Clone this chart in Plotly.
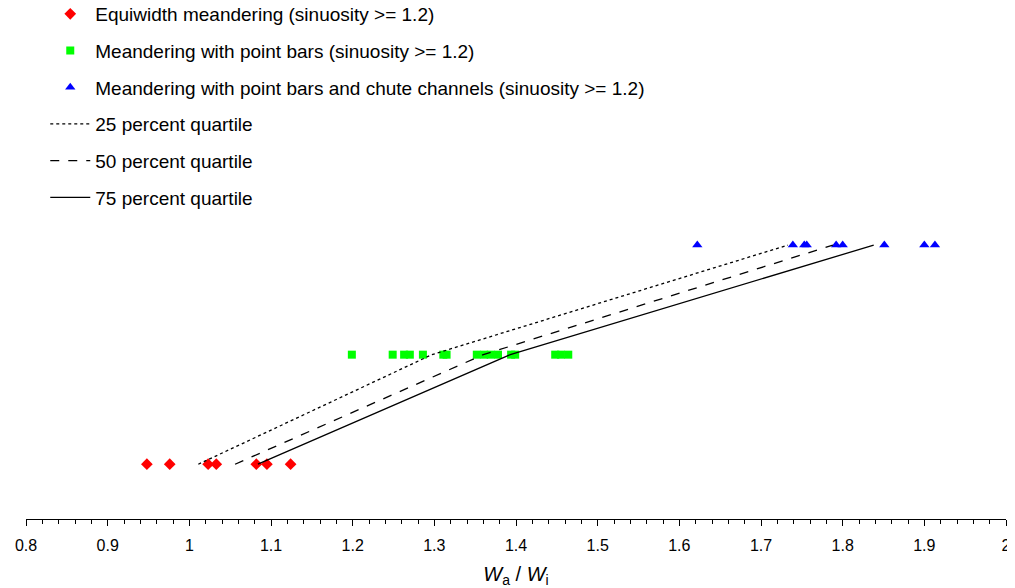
import plotly.graph_objects as go

# ---- data ----
equiwidth_x = [0.948, 0.976, 1.023, 1.033, 1.082, 1.095, 1.124]
pointbar_x = [1.199, 1.249, 1.263, 1.270, 1.286, 1.311, 1.315, 1.352, 1.361,
              1.369, 1.378, 1.394, 1.399, 1.448, 1.455, 1.464]
chute_x = [1.622, 1.739, 1.753, 1.756, 1.792, 1.800, 1.851, 1.900, 1.913]

levels = [1, 2, 3]  # equiwidth, point bars, chute channels
q25_x = [1.011, 1.297, 1.733]
q50_x = [1.056, 1.360, 1.788]
q75_x = [1.084, 1.393, 1.838]

tick_vals = [0.8, 0.9, 1.0, 1.1, 1.2, 1.3, 1.4, 1.5, 1.6, 1.7, 1.8, 1.9, 2.0]
tick_text = ["0.8", "0.9", "1", "1.1", "1.2", "1.3", "1.4", "1.5", "1.6", "1.7", "1.8", "1.9", "2"]

names = [
    "Equiwidth meandering (sinuosity >= 1.2)",
    "Meandering with point bars (sinuosity >= 1.2)",
    "Meandering with point bars and chute channels (sinuosity >= 1.2)",
    "25 percent quartile",
    "50 percent quartile",
    "75 percent quartile",
]

fig = go.Figure()

fig.add_trace(go.Scatter(
    x=equiwidth_x, y=[levels[0]] * len(equiwidth_x), mode="markers", name=names[0],
    legendgroup="a",
    marker=dict(symbol="diamond", size=9, color="#FF0000")))
fig.add_trace(go.Scatter(
    x=pointbar_x, y=[levels[1]] * len(pointbar_x), mode="markers", name=names[1],
    legendgroup="b",
    marker=dict(symbol="square", size=8, color="#00FF00")))
fig.add_trace(go.Scatter(
    x=chute_x, y=[levels[2]] * len(chute_x), mode="markers", name=names[2],
    legendgroup="c",
    marker=dict(symbol="triangle-up", size=9, color="#0000FF")))

for xs, nm, dash, g in [(q25_x, names[3], "dot", "d"),
                        (q50_x, names[4], "dash", "e"),
                        (q75_x, names[5], "solid", "f")]:
    fig.add_trace(go.Scatter(
        x=xs, y=levels, mode="lines", name=nm, legendgroup=g,
        line=dict(color="black", width=1.3, dash=dash)))

fig.update_layout(
    width=1007, height=580,
    margin=dict(l=18, r=9, t=18, b=69, autoexpand=False),
    paper_bgcolor="white", plot_bgcolor="white",
    font=dict(family="Liberation Sans, Arial, sans-serif", color="black"),
    showlegend=True,
    legend=dict(
        x=0.037, y=1.0629, xref="container", yref="paper",
        xanchor="left", yanchor="top",
        font=dict(size=19, color="black"),
        tracegroupgap=9, itemwidth=40,
        bgcolor="rgba(0,0,0,0)",
    ),
    xaxis=dict(
        range=[0.8, 2.0],
        tickvals=tick_vals, ticktext=tick_text,
        ticks="outside", ticklen=6, tickwidth=1, tickcolor="black",
        ticklabelstandoff=6,
        showline=True, linecolor="black", linewidth=1,
        showgrid=False, zeroline=False,
        tickfont=dict(size=16, color="black"),
        minor=dict(dtick=0.02, ticks="outside", ticklen=4, tickcolor="black", showgrid=False),
        title=dict(text="<i>W</i><sub>a</sub> / <i>W</i><sub>i</sub>",
                   font=dict(size=20, color="black"), standoff=14),
    ),
    yaxis=dict(
        range=[0.5, 5.0], visible=False, showgrid=False, zeroline=False,
    ),
)

fig.write_html("out.html")
